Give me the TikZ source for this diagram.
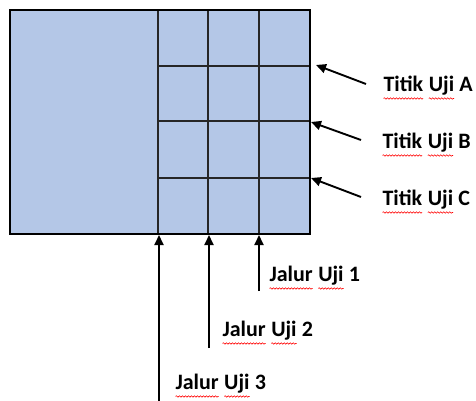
\documentclass[tikz,border=0pt]{standalone}
\usepackage{fontspec}
\setmainfont{Carlito}
\usetikzlibrary{arrows.meta,decorations.pathmorphing}
\definecolor{panel}{HTML}{B4C7E7}
\newcommand\squig[1]{\tikz[baseline=(w.base),x=1pt,y=1pt]{\node[inner sep=0pt,outer sep=0pt](w){#1};\draw[red,line width=0.6pt,decorate,decoration={snake,amplitude=0.7pt,segment length=3pt}] ([yshift=-6.5pt]w.base west) -- ([yshift=-6.5pt]w.base east);}}
\tikzset{
  gridline/.style={line width=1.2pt,black!85},
  pointer/.style={line width=1.9pt,-{Triangle[length=10pt,width=9pt]}},
  lbl/.style={anchor=west,inner sep=0pt,font=\fontsize{22}{26}\selectfont\bfseries},
}
\begin{document}
\begin{tikzpicture}[x=1pt,y=-1pt]
\useasboundingbox (0,0) rectangle (476,401);
% panel
\path[fill=panel] (10,10) rectangle (310,234);
\foreach \x in {158,208,259} \draw[gridline] (\x,10) -- (\x,234);
\foreach \y in {66,121,178} \draw[gridline] (158,\y) -- (310,\y);
\draw[line width=2.4pt] (10,10) rectangle (310,234);
% point labels
\node[lbl] (tA) at (383,88) {\squig{Titik} \squig{Uji} A};
\node[lbl] (tB) at (382,145) {\squig{Titik} \squig{Uji} B};
\node[lbl] (tC) at (382,202) {\squig{Titik} \squig{Uji} C};
\coordinate (hA) at (316,65); \coordinate (sA) at (366,84);
\coordinate (hB) at (311,122); \coordinate (sB) at (361,140);
\coordinate (hC) at (311,178); \coordinate (sC) at (361,197);
\draw[pointer] (sA) -- (hA);
\draw[pointer] (sB) -- (hB);
\draw[pointer] (sC) -- (hC);
% path labels
\node[lbl] (j1) at (269,278) {\squig{Jalur} \squig{Uji} 1};
\node[lbl] (j2) at (222,333) {\squig{Jalur} \squig{Uji} 2};
\node[lbl] (j3) at (175,386) {\squig{Jalur} \squig{Uji} 3};
\coordinate (h1) at (259,235); \coordinate (s1) at (259,291);
\coordinate (h2) at (209,235); \coordinate (s2) at (209,348);
\coordinate (h3) at (159,235); \coordinate (s3) at (159,402);
\draw[pointer] (s1) -- (h1);
\draw[pointer] (s2) -- (h2);
\draw[pointer] (s3) -- (h3);
\end{tikzpicture}
\end{document}
